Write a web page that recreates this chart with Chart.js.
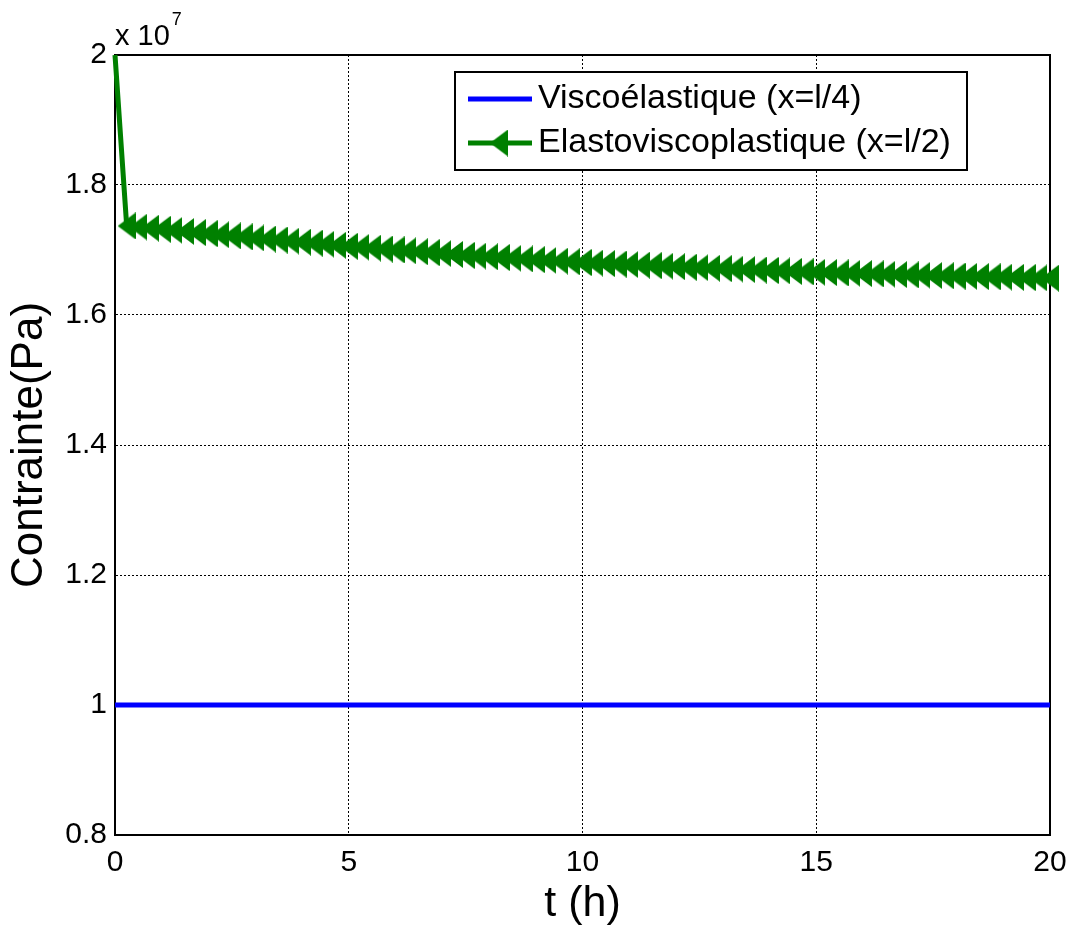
<!DOCTYPE html>
<html>
<head>
<meta charset="utf-8">
<script src="https://cdn.jsdelivr.net/npm/chart.js@4.4.0/dist/chart.umd.min.js"></script>
<style>
  body { margin: 0; background: #fff; }
  canvas { display: block; }
</style>
</head>
<body>
<canvas id="grafico" width="1070" height="925"></canvas>
<script>
// t (h)
var tempi = [0, 0.25, 0.5, 0.75, 1, 1.25, 1.5, 1.75, 2, 2.25, 2.5, 2.75, 3, 3.25, 3.5, 3.75,
  4, 4.25, 4.5, 4.75, 5, 5.25, 5.5, 5.75, 6, 6.25, 6.5, 6.75, 7, 7.25, 7.5, 7.75,
  8, 8.25, 8.5, 8.75, 9, 9.25, 9.5, 9.75, 10, 10.25, 10.5, 10.75, 11, 11.25, 11.5, 11.75,
  12, 12.25, 12.5, 12.75, 13, 13.25, 13.5, 13.75, 14, 14.25, 14.5, 14.75, 15, 15.25, 15.5, 15.75,
  16, 16.25, 16.5, 16.75, 17, 17.25, 17.5, 17.75, 18, 18.25, 18.5, 18.75, 19, 19.25, 19.5, 19.75, 20];

// contrainte en 1e7 Pa
var elastoVisco = [2.0, 1.737, 1.7353, 1.7336, 1.7319, 1.7302, 1.7285, 1.7268, 1.7251, 1.7234, 1.7217,
  1.7201, 1.7185, 1.7169, 1.7153, 1.7137, 1.7121, 1.7105, 1.7089, 1.7073, 1.7057,
  1.7043, 1.7029, 1.7015, 1.7001, 1.6987, 1.6973, 1.6959, 1.6945, 1.6931, 1.6917,
  1.6906, 1.6895, 1.6884, 1.6873, 1.6862, 1.6851, 1.6840, 1.6829, 1.6818, 1.6807,
  1.6799, 1.6791, 1.6783, 1.6775, 1.6767, 1.6759, 1.6751, 1.6743, 1.6735, 1.6727,
  1.6720, 1.6713, 1.6706, 1.6699, 1.6692, 1.6685, 1.6678, 1.6671, 1.6664, 1.6657,
  1.6652, 1.6647, 1.6642, 1.6637, 1.6632, 1.6627, 1.6622, 1.6617, 1.6612, 1.6607,
  1.6603, 1.6599, 1.6595, 1.6591, 1.6587, 1.6583, 1.6579, 1.6575, 1.6571, 1.6567];

var tempiVisco = [0, 20];
var viscoElastique = [1, 1];

var etichette = ['Viscoélastique (x=l/4)', 'Elastoviscoplastique (x=l/2)'];
var ticksX = [0, 5, 10, 15, 20];
var ticksY = [0.8, 1, 1.2, 1.4, 1.6, 1.8, 2];

var FONT = '"Liberation Sans", Arial, sans-serif';
var VERDE = '#008000';
var BLU = '#0000ff';

// marker '<' come in matlab
var triangolo = document.createElement('canvas');
triangolo.width = 18;
triangolo.height = 27;
var tctx = triangolo.getContext('2d');
tctx.fillStyle = VERDE;
tctx.beginPath();
tctx.moveTo(0, 13.5);
tctx.lineTo(18, 0);
tctx.lineTo(18, 27);
tctx.closePath();
tctx.fill();

function punti(xs, ys) {
  var out = [];
  for (var i = 0; i < xs.length; i++) out.push({ x: xs[i], y: ys[i] });
  return out;
}

var cornice = {
  id: 'cornice',
  beforeDatasetsDraw: function (chart) {
    var a = chart.chartArea, ctx = chart.ctx;
    ctx.save();
    ctx.strokeStyle = '#000';
    ctx.lineWidth = 2;
    ctx.strokeRect(a.left, a.top, a.right - a.left, a.bottom - a.top);
    ctx.restore();
  },
  afterDraw: function (chart) {
    var a = chart.chartArea, ctx = chart.ctx;
    ctx.save();
    // esponente
    ctx.fillStyle = '#000';
    ctx.textBaseline = 'alphabetic';
    ctx.font = '29px ' + FONT;
    ctx.fillText('x 10', a.left, a.top - 10);
    var w = ctx.measureText('x 10').width;
    ctx.font = '18px ' + FONT;
    ctx.fillText('7', a.left + w + 2, a.top - 30);

    // legenda
    var lx = a.right - 595, ly = a.top + 17, lw = 512, lh = 98;
    ctx.fillStyle = '#fff';
    ctx.fillRect(lx, ly, lw, lh);
    ctx.strokeStyle = '#000';
    ctx.lineWidth = 2;
    ctx.strokeRect(lx, ly, lw, lh);
    var righe = [ly + 27, ly + 71];
    var colori = [BLU, VERDE];
    for (var i = 0; i < 2; i++) {
      ctx.strokeStyle = colori[i];
      ctx.lineWidth = 5;
      ctx.beginPath();
      ctx.moveTo(lx + 13, righe[i]);
      ctx.lineTo(lx + 77, righe[i]);
      ctx.stroke();
      if (i === 1) ctx.drawImage(triangolo, lx + 35, righe[i] - 13.5);
      ctx.fillStyle = '#000';
      ctx.font = '34px ' + FONT;
      ctx.textBaseline = 'middle';
      ctx.fillText(etichette[i], lx + 83, righe[i]);
    }
    ctx.restore();
  }
};

var ctx = document.getElementById('grafico');
var chart = new Chart(ctx, {
  type: 'line',
  data: {
    datasets: [{
      label: etichette[0],
      data: punti(tempiVisco, viscoElastique),
      borderColor: BLU,
      borderWidth: 5,
      pointRadius: 0,
      tension: 0,
      clip: false
    }, {
      label: etichette[1],
      data: punti(tempi, elastoVisco),
      borderColor: VERDE,
      backgroundColor: VERDE,
      borderWidth: 5,
      pointStyle: triangolo,
      pointRadius: function (c) { return c.dataIndex === 0 ? 0 : 10; },
      tension: 0,
      clip: false
    }]
  },
  options: {
    responsive: false,
    animation: false,
    devicePixelRatio: 1,
    layout: { padding: { top: 55, right: 20, left: 0, bottom: 0 } },
    plugins: { legend: { display: false }, tooltip: { enabled: false } },
    scales: {
      x: {
        type: 'linear',
        min: 0,
        max: 20,
        afterFit: function (s) { s.height = 90; s.paddingLeft = 0; s.paddingRight = 0; },
        afterBuildTicks: function (s) { s.ticks = ticksX.map(function (v) { return { value: v }; }); },
        ticks: {
          color: '#000',
          font: { family: FONT, size: 30 },
          padding: 10,
          maxRotation: 0,
          callback: function (v) { return v; }
        },
        grid: { color: '#000', lineWidth: 1, drawTicks: false },
        border: { display: true, color: '#000', width: 2, dash: [2, 2] },
        title: {
          display: true,
          text: 't (h)',
          color: '#000',
          font: { family: FONT, size: 43, lineHeight: 0.95 },
          padding: 0
        }
      },
      y: {
        type: 'linear',
        min: 0.8,
        max: 2,
        afterFit: function (s) { s.width = 115; },
        afterBuildTicks: function (s) { s.ticks = ticksY.map(function (v) { return { value: v }; }); },
        ticks: {
          color: '#000',
          font: { family: FONT, size: 30 },
          padding: 8,
          callback: function (v) { return +v.toFixed(1); }
        },
        grid: { color: '#000', lineWidth: 1, drawTicks: false },
        border: { display: true, color: '#000', width: 2, dash: [2, 2] },
        title: {
          display: true,
          text: 'Contrainte(Pa)',
          color: '#000',
          font: { family: FONT, size: 44 },
          padding: { top: 3, bottom: 0 }
        }
      }
    }
  },
  plugins: [cornice]
});
</script>
</body>
</html>
